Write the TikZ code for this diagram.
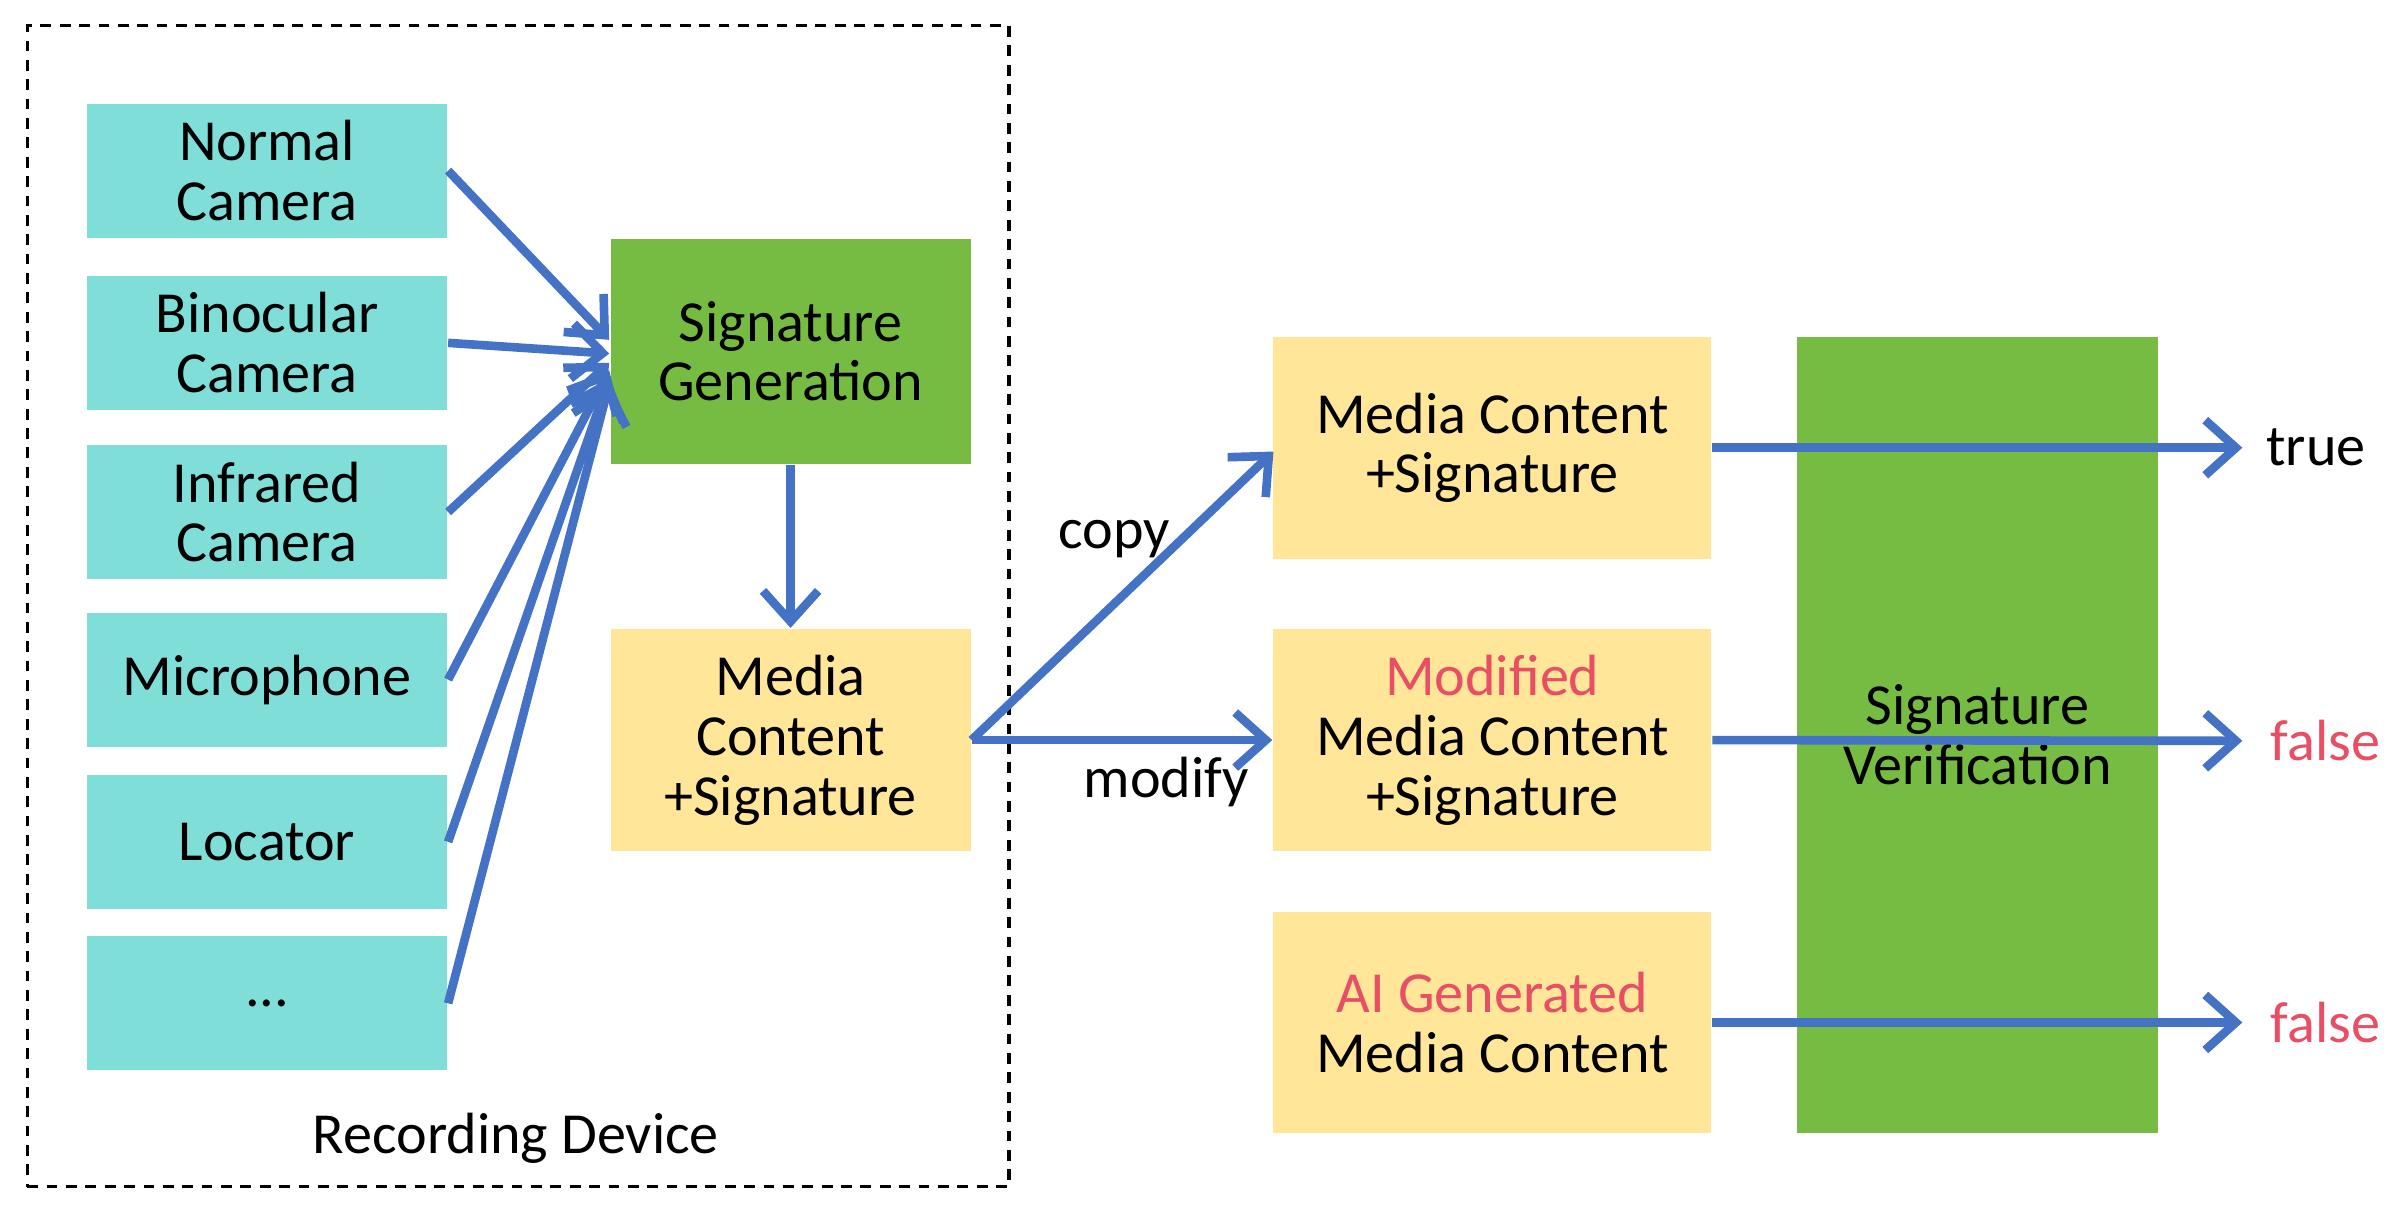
\documentclass[tikz,border=0pt]{standalone}
\usepackage{fontspec}
\setmainfont{Carlito}
\usetikzlibrary{arrows.meta}
\definecolor{cyanbox}{RGB}{128,222,217}
\definecolor{greenbox}{RGB}{118,188,66}
\definecolor{yellowbox}{RGB}{255,230,153}
\definecolor{arrowblue}{RGB}{68,114,196}
\definecolor{redtext}{RGB}{232,78,100}
\begin{document}
\begin{tikzpicture}[x=0.01cm,y=-0.01cm,
  every node/.style={font=\fontsize{10.8}{11.1}\selectfont, align=center, inner sep=0pt},
  sensor/.style={fill=cyanbox, minimum width=2.35cm, minimum height=0.875cm},
  greenblk/.style={fill=greenbox},
  yellowblk/.style={fill=yellowbox},
  flow/.style={draw=arrowblue, line width=1.6pt, -{Straight Barb[length=2mm,width=3.6mm,line width=1.6pt]}},
  devbox/.style={draw=black, line width=0.6pt, dash pattern=on 2pt off 1.6pt},
  red/.style={text=redtext}
]
\useasboundingbox (0,0) rectangle (1568,793);
% recording device frame
\node[devbox, minimum width=6.41cm, minimum height=7.58cm] (dev) at (338.5,396) {};
\node (devlabel) at (337,744) {Recording Device};
% sensors
\node[sensor] (s1) at (174.5,111.5) {Normal\\Camera};
\node[sensor] (s2) at (174.5,224) {Binocular\\Camera};
\node[sensor] (s3) at (174.5,334.5) {Infrared\\Camera};
\node[sensor] (s4) at (174.5,444) {Microphone};
\node[sensor] (s5) at (174.5,550) {Locator};
\node[sensor] (s6) at (174.5,655.5) {...};
% signature generation
\node[greenblk, minimum width=2.35cm, minimum height=1.47cm] (sg) at (516.5,229.5) {Signature\\Generation};
\node[yellowblk, minimum width=2.35cm, minimum height=1.45cm] (mc) at (516.5,483.5) {Media\\Content\\+Signature};
% right column
\node[greenblk, minimum width=2.36cm, minimum height=5.2cm] (sv) at (1292,480) {Signature\\Verification};
\node[yellowblk, minimum width=2.86cm, minimum height=1.45cm] (r1) at (975,292.5) {Media Content\\+Signature};
\node[yellowblk, minimum width=2.86cm, minimum height=1.45cm] (r2) at (975,483.5) {\textcolor{redtext}{Modified}\\Media Content\\+Signature};
\node[yellowblk, minimum width=2.86cm, minimum height=1.44cm] (r3) at (975,668) {\textcolor{redtext}{AI Generated}\\Media Content};
% outputs
\node[anchor=west] (o1) at (1480,292.5) {true};
\node[anchor=west, red] (o2) at (1483,484) {false};
\node[anchor=west, red] (o3) at (1483,668) {false};
% connector endpoints on sg
\coordinate (e1) at (398,222);
\coordinate (e2) at (398,231);
\coordinate (e3) at (398,237);
\coordinate (e4) at (398,242);
\coordinate (e5) at (398,247);
\coordinate (e6) at (398,251);
\draw[flow] (s1.east) -- (e1);
\draw[flow] (s2.east) -- (e2);
\draw[flow] (s3.east) -- (e3);
\draw[flow] (s4.east) -- (e4);
\draw[flow] (s5.east) -- (e5);
\draw[flow] (s6.east) -- (e6);
\draw[flow] (sg.south) -- (mc.north);
\coordinate (r1in) at (832,295);
\draw[flow] (mc.east) -- (r1in);
\draw[flow] (mc.east) -- (r2.west);
\node (copy) at (728,352) {copy};
\node (modify) at (762,511) {modify};
\coordinate (t1) at (1465,292.5);
\coordinate (t2) at (1465,484);
\coordinate (t3) at (1465,668);
\draw[flow] (r1.east) -- (t1);
\draw[flow] (r2.east) -- (t2);
\draw[flow] (r3.east) -- (t3);
\end{tikzpicture}
\end{document}
